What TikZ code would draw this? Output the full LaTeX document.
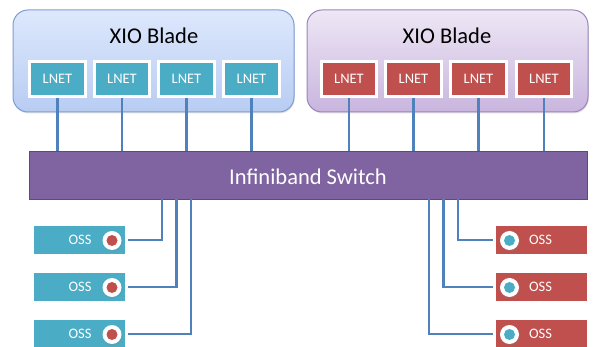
\documentclass[tikz,border=0pt]{standalone}
\usepackage{fontspec}
\setmainfont{Carlito}
\usetikzlibrary{shadows}
\definecolor{teal}{HTML}{4BACC6}
\definecolor{oredd}{HTML}{C0504D}
\definecolor{swpurple}{HTML}{8064A2}
\definecolor{swborder}{HTML}{5E4A7E}
\definecolor{linkblue}{HTML}{4F81BD}
\definecolor{bladeAtop}{HTML}{DDE8FC}
\definecolor{bladeAbot}{HTML}{B8CCF3}
\definecolor{bladeAline}{HTML}{7E9DD6}
\definecolor{bladeBtop}{HTML}{EEE7F5}
\definecolor{bladeBbot}{HTML}{C9B5DE}
\definecolor{bladeBline}{HTML}{9B84BD}
\tikzset{
  softshadow/.style={drop shadow={opacity=0.22, shadow xshift=0.8pt, shadow yshift=-1.5pt}},
  bladebox/.style={rounded corners=15pt, line width=1pt, softshadow},
  lnetbox/.style={draw=white, line width=2.6pt, minimum width=55.5pt, minimum height=35.5pt,
    inner sep=0pt, text=white, font=\fontsize{14.5}{16}\selectfont, softshadow},
  ossbox/.style={draw=white, line width=3pt, minimum width=94pt, minimum height=31pt,
    inner sep=0pt, softshadow},
  osstext/.style={text=white, font=\fontsize{14.5}{16}\selectfont, anchor=base, inner sep=0pt},
  portw/.style={circle, fill=white, minimum size=19pt, inner sep=0pt, softshadow},
  portd/.style={circle, minimum size=11pt, inner sep=0pt},
  link/.style={draw=linkblue, line width=2.4pt},
  title/.style={font=\fontsize{22.5}{24}\selectfont, anchor=base, inner sep=0pt},
}
\begin{document}
\begin{tikzpicture}[x=1pt,y=-1pt]
\useasboundingbox (0,0) rectangle (595,347);
\begin{scope}
\clip (0,0) rectangle (595,347);
% blades
\path[bladebox, draw=bladeAline, top color=bladeAtop, bottom color=bladeAbot] (13,10) rectangle (294,112);
\path[bladebox, draw=bladeBline, top color=bladeBtop, bottom color=bladeBbot] (307,10) rectangle (588,112);
\node[title] (ta) at (154,43.5) {XIO Blade};
\node[title] (tb) at (447,43.5) {XIO Blade};
% LNET
\foreach \n/\x in {a1/57.5,a2/122,a3/186.5,a4/251.5}
  \node[lnetbox, fill=teal] (\n) at (\x,79) {LNET};
\foreach \n/\x in {b1/349,b2/413.5,b3/478.5,b4/544}
  \node[lnetbox, fill=oredd] (\n) at (\x,79) {LNET};
% switch
\node[draw=swborder, fill=swpurple, line width=1.8pt, minimum width=558pt, minimum height=48pt, inner sep=0pt] (sw) at (308.5,175.5) {};
\node[text=white, font=\fontsize{22.5}{24}\selectfont, anchor=base, inner sep=0pt] (swt) at (308,185) {Infiniband Switch};
% links to blades
\foreach \n in {a1,a2,a3,a4,b1,b2,b3,b4}
  \draw[link] (\n.south) -- (\n.south |- sw.north);
% switch bottom coordinates
\coordinate (s1) at (162,199);
\coordinate (s2) at (176.5,199);
\coordinate (s3) at (191,199);
\coordinate (r1) at (458,199);
\coordinate (r2) at (443.5,199);
\coordinate (r3) at (429,199);
% OSS left
\foreach \i/\y/\s in {1/240/s1,2/287/s2,3/334/s3}{
  \draw[link] (112,\y) -| (\s);
  \node[ossbox, fill=teal] (lo\i) at (79.5,\y) {};
  \node[osstext] (lt\i) at (80,\y+5) {OSS};
  \node[portw] (lw\i) at (112,\y+0.5) {};
  \node[portd, fill=oredd] (ld\i) at (lw\i) {};
}
% OSS right
\foreach \i/\y/\s in {1/240/r1,2/287/r2,3/334/r3}{
  \draw[link] (509,\y) -| (\s);
  \node[ossbox, fill=oredd] (ro\i) at (541,\y) {};
  \node[osstext] (rt\i) at (540.5,\y+5) {OSS};
  \node[portw] (rw\i) at (509.5,\y+0.5) {};
  \node[portd, fill=teal] (rd\i) at (rw\i) {};
}
\end{scope}
\end{tikzpicture}
\end{document}
